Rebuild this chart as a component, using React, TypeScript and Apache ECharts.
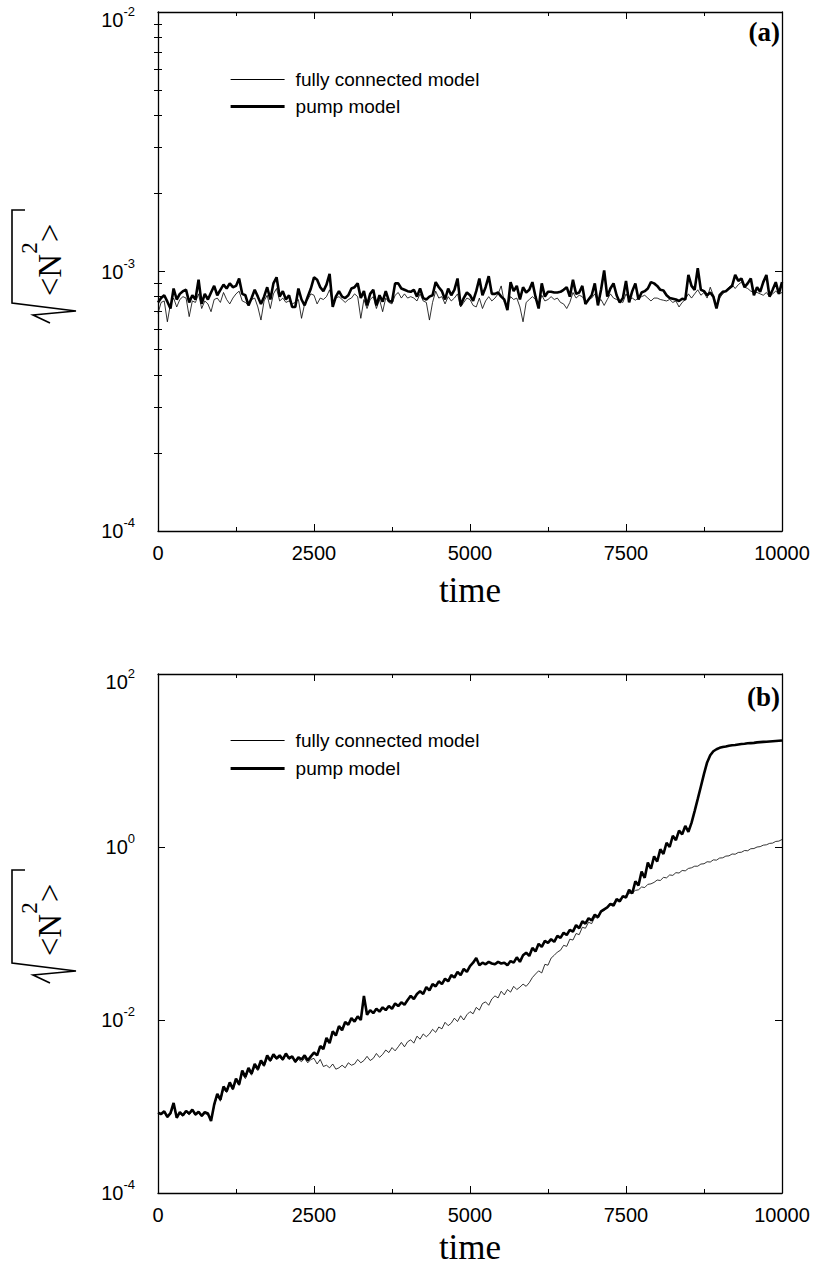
import React, { useEffect, useRef } from "react";
import * as echarts from "echarts";

// ---------- data ----------
const TIME_STEP = 50; // time units between samples
const xTickLabels = [0, 2500, 5000, 7500, 10000];
const seriesNames = ["fully connected model", "pump model"];

const topYMajor = [1e-4, 1e-3, 1e-2];
const topYMinor = [2e-4, 3e-4, 4e-4, 5e-4, 6e-4, 7e-4, 8e-4, 9e-4, 2e-3, 3e-3, 4e-3, 5e-3, 6e-3, 7e-3, 8e-3, 9e-3];
const bottomYMajor = [1e-4, 1e-2, 1, 100];

// panel (a), values in units of 1e-4, t = 0..10000 step 50
const topFullyE4 = [
  6.9, 7.6, 7.7, 6.4, 7.5, 7.9, 7.3, 7.8, 8.0, 7.9,
  6.7, 7.7, 7.6, 8.2, 7.2, 7.7, 7.5, 7.0, 7.8, 7.9,
  7.6, 8.3, 7.8, 7.5, 7.9, 8.2, 8.4, 7.7, 7.6, 7.4,
  7.8, 7.9, 7.3, 6.5, 7.7, 8.1, 7.2, 8.2, 8.6, 7.7,
  7.9, 7.6, 7.7, 7.5, 7.6, 7.8, 6.6, 7.5, 7.8, 8.2,
  8.1, 7.5, 7.9, 7.8, 8.0, 8.5, 7.6, 7.9, 8.0, 7.8,
  7.6, 7.8, 7.9, 8.2, 8.0, 6.6, 7.8, 7.2, 7.8, 8.0,
  7.2, 7.8, 7.0, 7.9, 7.6, 7.5, 8.1, 8.3, 7.9, 8.2,
  7.9, 8.0, 7.9, 7.7, 8.2, 7.7, 7.6, 6.5, 7.6, 8.4,
  7.9, 8.0, 7.5, 8.0, 7.7, 7.9, 8.2, 7.3, 7.6, 7.9,
  7.8, 7.4, 7.3, 7.9, 7.2, 7.7, 8.0, 7.7, 7.9, 8.2,
  8.8, 7.6, 7.4, 8.0, 7.8, 7.9, 7.3, 6.4, 7.6, 7.8,
  8.0, 7.8, 7.4, 8.1, 7.7, 7.8, 8.0, 7.8, 7.9, 7.6,
  7.5, 7.2, 7.6, 8.3, 7.9, 8.1, 8.0, 7.6, 7.8, 7.9,
  8.2, 7.6, 7.8, 7.4, 7.8, 8.2, 7.9, 7.8, 7.7, 7.6,
  8.2, 7.8, 7.9, 7.75, 7.9, 8.0, 8.1, 7.9, 7.7, 7.9,
  7.9, 7.8, 7.75, 7.7, 7.8, 7.6, 7.7, 7.3, 7.6, 7.8,
  8.2, 7.9, 8.2, 8.5, 8.1, 8.3, 7.9, 8.7, 8.1, 7.4,
  7.9, 8.2, 8.4, 8.7, 8.9, 8.6, 8.9, 9.1, 8.7, 8.6,
  8.4, 8.3, 8.3, 8.2, 8.1, 8.3, 8.0, 8.2, 8.4, 8.2,
  8.3,
];

const topPumpE4 = [
  7.6, 7.9, 8.1, 7.65, 7.2, 8.6, 7.8, 8.2, 8.4, 8.5,
  7.6, 8.1, 7.8, 9.3, 7.5, 8.2, 7.8, 8.3, 8.8, 8.1,
  8.5, 8.9, 8.6, 9.0, 8.7, 8.8, 9.4, 8.2, 8.1, 7.4,
  7.9, 8.5, 8.0, 7.5, 8.0, 8.7, 7.8, 9.0, 9.5, 8.0,
  8.4, 7.8, 8.1, 7.3, 7.3, 8.6, 7.8, 7.4, 8.0, 8.6,
  9.5, 9.3, 8.7, 8.4, 8.9, 9.8, 7.3, 8.0, 8.4, 8.0,
  7.9, 8.1, 8.6, 8.7, 9.0, 7.9, 8.4, 7.4, 8.2, 8.5,
  7.4, 8.1, 7.65, 8.4, 7.7, 7.65, 9.0, 9.0, 8.6, 8.5,
  8.4, 8.35, 8.5, 8.0, 8.6, 7.9, 7.8, 8.0, 8.1, 9.1,
  8.7, 8.4, 7.8, 8.6, 8.1, 8.5, 9.4, 7.4, 7.9, 8.3,
  8.1, 7.7, 8.4, 9.4, 8.1, 8.7, 9.6, 8.2, 8.2, 8.3,
  8.0, 7.8, 7.1, 9.1, 8.4, 8.8, 7.8, 8.7, 8.3, 8.5,
  9.1, 8.0, 7.2, 9.0, 8.0, 8.35, 8.35, 8.3, 8.3, 8.35,
  8.5, 8.7, 8.0, 9.3, 8.2, 8.3, 8.8, 7.5, 7.8, 8.1,
  9.0, 7.4, 8.5, 10.1, 8.0, 8.6, 9.0, 8.1, 7.6, 7.9,
  9.2, 7.6, 8.4, 9.0, 7.8, 8.3, 8.4, 8.6, 9.1, 9.0,
  8.8, 8.5, 8.45, 8.1, 7.9, 7.85, 7.8, 7.7, 7.85, 7.8,
  9.7, 8.8, 8.5, 10.3, 8.5, 8.4, 8.1, 8.3, 8.0, 7.2,
  8.1, 8.35, 8.4, 8.6, 8.8, 9.7, 9.2, 9.4, 8.7, 9.0,
  9.4, 8.1, 8.7, 8.35, 9.1, 9.7, 8.0, 8.5, 9.1, 8.2,
  9.1,
];

// panel (b), t = 0..10000 step 50
const bottomFully = [
  8.3e-4, 8.0e-4, 8.6e-4, 7.4e-4, 8.1e-4, 1.0e-3, 7.6e-4, 8.3e-4, 7.7e-4, 8.6e-4,
  8.0e-4, 8.9e-4, 7.9e-4, 8.4e-4, 7.6e-4, 8.3e-4, 8.0e-4, 7.0e-4, 1.0e-3, 1.35e-3,
  1.15e-3, 1.6e-3, 1.45e-3, 1.8e-3, 1.55e-3, 2.0e-3, 1.75e-3, 2.4e-3, 2.1e-3, 2.6e-3,
  2.3e-3, 2.9e-3, 2.6e-3, 3.2e-3, 2.9e-3, 3.6e-3, 3.3e-3, 3.8e-3, 3.5e-3, 3.7e-3,
  3.4e-3, 3.9e-3, 3.5e-3, 3.7e-3, 3.2e-3, 3.5e-3, 3.3e-3, 3.6e-3, 3.2e-3, 3.5e-3,
  3.6e-3, 3.1e-3, 3.5e-3, 2.9e-3, 3.0e-3, 2.8e-3, 3.1e-3, 2.7e-3, 2.8e-3, 3.0e-3,
  2.8e-3, 3.2e-3, 3.0e-3, 3.1e-3, 3.5e-3, 3.2e-3, 3.4e-3, 3.8e-3, 3.4e-3, 3.6e-3,
  4.1e-3, 3.7e-3, 4.0e-3, 4.5e-3, 4.2e-3, 4.8e-3, 4.4e-3, 4.9e-3, 5.5e-3, 4.9e-3,
  5.6e-3, 5.9e-3, 5.4e-3, 6.5e-3, 6.0e-3, 6.9e-3, 6.4e-3, 6.9e-3, 7.8e-3, 7.2e-3,
  8.3e-3, 7.9e-3, 9.4e-3, 8.6e-3, 9.2e-3, 1.05e-2, 9.6e-3, 1.12e-2, 1.0e-2, 1.15e-2,
  1.25e-2, 1.18e-2, 1.4e-2, 1.3e-2, 1.55e-2, 1.62e-2, 1.48e-2, 1.75e-2, 1.9e-2, 1.8e-2,
  2.15e-2, 1.95e-2, 2.25e-2, 2.1e-2, 2.45e-2, 2.25e-2, 2.4e-2, 2.6e-2, 2.45e-2, 2.7e-2,
  3.1e-2, 3.4e-2, 3.7e-2, 3.5e-2, 4.4e-2, 4.3e-2, 5.2e-2, 5.6e-2, 6.1e-2, 6.4e-2,
  7.3e-2, 7.1e-2, 8.6e-2, 8.4e-2, 0.1, 0.097, 0.118, 0.115, 0.135, 0.13,
  0.155, 0.15, 0.178, 0.185, 0.2, 0.215, 0.225, 0.24, 0.25, 0.262,
  0.275, 0.29, 0.295, 0.315, 0.32, 0.345, 0.34, 0.37, 0.375, 0.39,
  0.415, 0.41, 0.445, 0.44, 0.475, 0.47, 0.505, 0.5, 0.535, 0.53,
  0.565, 0.575, 0.6, 0.6, 0.635, 0.64, 0.675, 0.67, 0.71, 0.705,
  0.745, 0.75, 0.785, 0.79, 0.83, 0.825, 0.865, 0.87, 0.91, 0.905,
  0.955, 0.96, 1.0, 1.01, 1.05, 1.06, 1.1, 1.11, 1.16, 1.17,
  1.22,
];

const bottomPump = [
  8.5e-4, 8.2e-4, 8.8e-4, 7.6e-4, 8.4e-4, 1.1e-3, 7.4e-4, 8.6e-4, 7.9e-4, 8.9e-4,
  8.3e-4, 9.2e-4, 8.1e-4, 8.7e-4, 7.8e-4, 8.6e-4, 8.3e-4, 6.8e-4, 1.05e-3, 1.4e-3,
  1.2e-3, 1.7e-3, 1.5e-3, 1.9e-3, 1.6e-3, 2.1e-3, 1.8e-3, 2.6e-3, 2.2e-3, 2.8e-3,
  2.4e-3, 3.1e-3, 2.7e-3, 3.4e-3, 3.0e-3, 3.9e-3, 3.4e-3, 4.0e-3, 3.6e-3, 3.9e-3,
  3.5e-3, 4.1e-3, 3.6e-3, 3.8e-3, 3.3e-3, 3.7e-3, 3.5e-3, 3.9e-3, 3.4e-3, 3.8e-3,
  4.2e-3, 3.9e-3, 5.0e-3, 4.6e-3, 6.2e-3, 5.4e-3, 7.4e-3, 6.6e-3, 8.5e-3, 7.6e-3,
  9.5e-3, 8.8e-3, 1.05e-2, 9.6e-3, 1.1e-2, 1.0e-2, 1.9e-2, 1.15e-2, 1.3e-2, 1.2e-2,
  1.35e-2, 1.25e-2, 1.4e-2, 1.3e-2, 1.45e-2, 1.35e-2, 1.55e-2, 1.45e-2, 1.6e-2, 1.5e-2,
  1.7e-2, 1.9e-2, 1.75e-2, 2.0e-2, 2.15e-2, 2.0e-2, 2.4e-2, 2.2e-2, 2.6e-2, 2.45e-2,
  2.8e-2, 2.6e-2, 3.0e-2, 2.8e-2, 3.3e-2, 3.1e-2, 3.6e-2, 3.3e-2, 3.9e-2, 3.6e-2,
  4.2e-2, 4.6e-2, 5.2e-2, 4.3e-2, 4.6e-2, 4.4e-2, 4.7e-2, 4.5e-2, 4.4e-2, 4.7e-2,
  4.5e-2, 4.6e-2, 4.3e-2, 4.8e-2, 4.6e-2, 5.3e-2, 4.7e-2, 5.6e-2, 6.0e-2, 5.5e-2,
  6.8e-2, 6.2e-2, 7.6e-2, 7.0e-2, 8.2e-2, 7.8e-2, 8.6e-2, 8.0e-2, 9.4e-2, 8.9e-2,
  0.102, 0.096, 0.11, 0.105, 0.125, 0.115, 0.138, 0.13, 0.15, 0.142,
  0.165, 0.155, 0.18, 0.19, 0.2, 0.22, 0.21, 0.25, 0.235, 0.27,
  0.26, 0.32, 0.29, 0.4, 0.36, 0.52, 0.44, 0.66, 0.56, 0.78,
  0.68, 0.94, 0.83, 1.12, 1.0, 1.35, 1.2, 1.55, 1.4, 1.75,
  1.5, 1.9, 2.6, 3.6, 5.0, 7.0, 9.5, 11.5, 12.8, 13.5,
  14.0, 14.3, 14.5, 14.8, 15.0, 15.1, 15.3, 15.5, 15.6, 15.8,
  15.9, 16.0, 16.2, 16.3, 16.4, 16.5, 16.6, 16.7, 16.8, 16.9,
  17.0,
];

// ---------- styling ----------
const SANS = '"Liberation Sans", Arial, Helvetica, sans-serif';
const SERIF = '"Liberation Serif", "Times New Roman", Times, serif';
const BLACK = "#000";
const THIN = 0.8;
const THICK = 2.6;

const toPairs = (vals: number[], scale = 1) => vals.map((v, i) => [i * TIME_STEP, v * scale]);

const powLabelRich = {
  b: { fontFamily: SANS, fontSize: 20, color: BLACK, verticalAlign: "middle" },
  s: { fontFamily: SANS, fontSize: 13, color: BLACK, verticalAlign: "middle", padding: [0, 0, 17, 0] },
  t: { fontFamily: SANS, fontSize: 20, color: BLACK, verticalAlign: "middle", padding: [16, 0, 0, 0] },
  u: { fontFamily: SANS, fontSize: 13, color: BLACK, verticalAlign: "middle", padding: [0, 0, 1, 0] },
};

function makePowFormatter(maxVal: number) {
  return (val: number) => {
    const e = Math.round(Math.log10(val));
    if (Math.abs(val - maxVal) / maxVal < 1e-6) return `{t|10}{u|${e}}`;
    return `{b|10}{s|${e}}`;
  };
}

function xAxes(gridIndex: number, nameGap: number) {
  const common = {
    type: "value",
    gridIndex,
    min: 0,
    max: 10000,
    interval: 2500,
    axisLine: { show: true, onZero: false, lineStyle: { color: BLACK, width: 1.3 } },
    axisTick: { show: true, inside: true, length: 7, lineStyle: { color: BLACK, width: 1 } },
    minorTick: { show: true, splitNumber: 2, length: 4, lineStyle: { color: BLACK, width: 1 } },
    splitLine: { show: false },
    minorSplitLine: { show: false },
  };
  return [
    {
      ...common,
      position: "bottom",
      name: "time",
      nameLocation: "middle",
      nameGap,
      nameTextStyle: { fontFamily: SERIF, fontSize: 35, color: BLACK },
      axisLabel: {
        show: true,
        fontFamily: SANS,
        fontSize: 20,
        color: BLACK,
        margin: 12,
        customValues: xTickLabels,
        formatter: (v: number) => String(v),
      },
    },
    { ...common, position: "top", axisLabel: { show: false } },
  ];
}

function yAxes(gridIndex: number, min: number, max: number, major: number[], minor: number[] | null) {
  const base = {
    type: "log",
    logBase: 10,
    gridIndex,
    min,
    max,
    splitLine: { show: false },
    minorTick: { show: false },
  };
  const list: any[] = [
    {
      ...base,
      position: "left",
      axisLine: { show: true, onZero: false, lineStyle: { color: BLACK, width: 1.3 } },
      axisTick: { show: true, inside: true, length: 7, customValues: major, lineStyle: { color: BLACK, width: 1 } },
      axisLabel: {
        show: true,
        margin: 23,
        customValues: major,
        formatter: makePowFormatter(max),
        rich: powLabelRich,
      },
    },
    {
      ...base,
      position: "right",
      axisLine: { show: true, onZero: false, lineStyle: { color: BLACK, width: 1.3 } },
      axisTick: { show: true, inside: true, length: 7, customValues: major, lineStyle: { color: BLACK, width: 1 } },
      axisLabel: { show: false },
    },
  ];
  if (minor) {
    list.push(
      {
        ...base,
        position: "left",
        axisLine: { show: false },
        axisTick: { show: true, inside: true, length: 4, customValues: minor, lineStyle: { color: BLACK, width: 1 } },
        axisLabel: { show: false },
      },
      {
        ...base,
        position: "right",
        axisLine: { show: false },
        axisTick: { show: true, inside: true, length: 4, customValues: minor, lineStyle: { color: BLACK, width: 1 } },
        axisLabel: { show: false },
      }
    );
  }
  return list;
}

function radical(offsetY: number) {
  return {
    type: "polyline",
    shape: {
      points: [
        [25, 210 + offsetY],
        [12, 210 + offsetY],
        [12, 303 + offsetY],
        [76, 311 + offsetY],
        [33, 315 + offsetY],
        [50, 323 + offsetY],
      ],
    },
    style: { stroke: BLACK, lineWidth: 1.6, fill: null },
    silent: true,
  };
}

function yTitle(centerY: number) {
  return {
    type: "text",
    x: 50,
    y: centerY,
    rotation: Math.PI / 2,
    silent: true,
    style: {
      text: "{a|<N}{s|2}{a|>}",
      align: "center",
      verticalAlign: "middle",
      fill: BLACK,
      rich: {
        a: { fontFamily: SERIF, fontSize: 33, fill: BLACK, verticalAlign: "middle" },
        s: { fontFamily: SERIF, fontSize: 23, fill: BLACK, verticalAlign: "middle", padding: [0, 0, 42, 0] },
      },
    },
  };
}

function panelTag(text: string, y: number) {
  return {
    type: "text",
    x: 780,
    y,
    silent: true,
    style: {
      text,
      align: "right",
      verticalAlign: "middle",
      fontFamily: SERIF,
      fontWeight: "bold",
      fontSize: 27,
      fill: BLACK,
    },
  };
}

function legendAt(top: number, gap: number) {
  return {
    data: [
      { name: seriesNames[0], itemStyle: { opacity: 0 }, lineStyle: { width: 1, color: BLACK } },
      { name: seriesNames[1], itemStyle: { opacity: 0 }, lineStyle: { width: 3.2, color: BLACK } },
    ],
    orient: "vertical",
    left: 224,
    top,
    itemWidth: 54,
    itemHeight: 14,
    itemGap: gap,
    selectedMode: false,
    itemStyle: { opacity: 0 },
    textStyle: { fontFamily: SANS, fontSize: 19, color: BLACK, padding: [0, 0, 0, 6] },
  };
}

function buildOption() {
  const xs = [...xAxes(0, 42), ...xAxes(1, 37)]; // 0,1 grid0 ; 2,3 grid1
  const ys = [
    ...yAxes(0, 1e-4, 1e-2, topYMajor, topYMinor), // 0..3
    ...yAxes(1, 1e-4, 1e2, bottomYMajor, null), // 4..5
  ];
  const line = (name: string, data: number[][], xi: number, yi: number, thick: boolean) => ({
    type: "line",
    name,
    xAxisIndex: xi,
    yAxisIndex: yi,
    data,
    symbol: "none",
    showSymbol: false,
    silent: true,
    color: BLACK,
    z: thick ? 3 : 2,
    lineStyle: { color: BLACK, width: thick ? THICK : THIN },
    emphasis: { disabled: true },
  });
  return {
    animation: false,
    backgroundColor: "#fff",
    grid: [
      { left: 158, top: 12, width: 624, height: 519 },
      { left: 158, top: 674, width: 624, height: 519 },
    ],
    xAxis: xs,
    yAxis: ys,
    legend: [legendAt(65, 8), legendAt(726, 9)],
    series: [
      line(seriesNames[0], toPairs(topFullyE4, 1e-4), 0, 0, false),
      line(seriesNames[1], toPairs(topPumpE4, 1e-4), 0, 0, true),
      line(seriesNames[0], toPairs(bottomFully), 2, 4, false),
      line(seriesNames[1], toPairs(bottomPump), 2, 4, true),
    ],
    graphic: [
      radical(0),
      yTitle(260),
      radical(660),
      yTitle(920),
      panelTag("(a)", 32),
      panelTag("(b)", 697),
    ],
  };
}

export default function App() {
  const ref = useRef<HTMLDivElement | null>(null);
  useEffect(() => {
    if (!ref.current) return;
    const chart = echarts.init(ref.current, undefined, { renderer: "svg" });
    chart.setOption(buildOption() as any);
    return () => chart.dispose();
  }, []);
  return (
    <div
      ref={ref}
      style={{ position: "absolute", left: 0, top: 0, width: 816, height: 1269, background: "#fff" }}
    />
  );
}
